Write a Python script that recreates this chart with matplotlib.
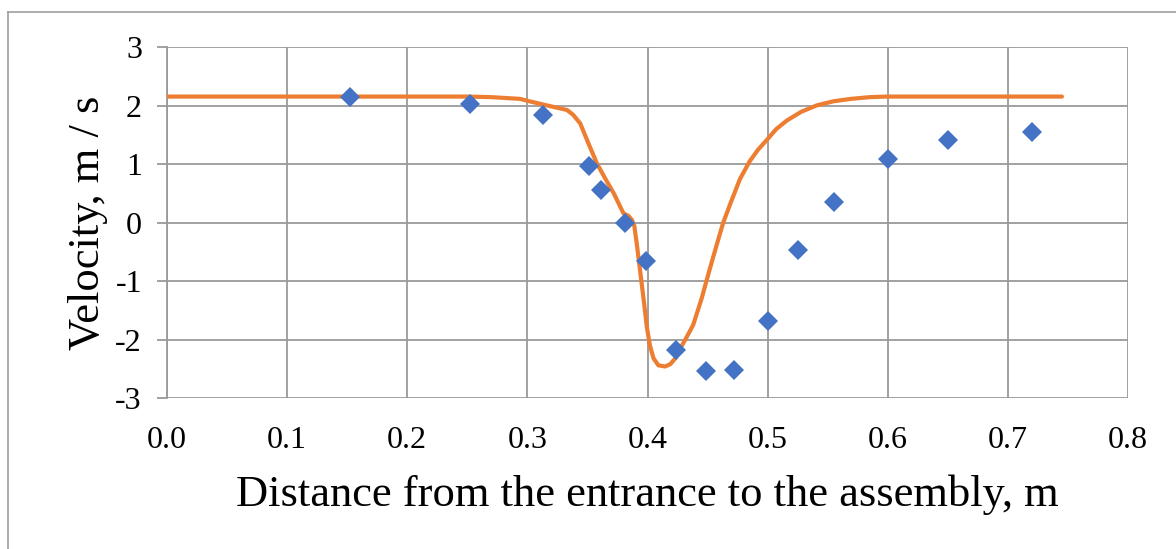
import matplotlib
matplotlib.use("Agg")
import matplotlib.pyplot as plt
from matplotlib.lines import Line2D

plt.rcParams['font.family'] = ['Liberation Serif', 'DejaVu Serif']

# measured points (blue diamonds)
meas_x = [0.152, 0.252, 0.313, 0.351, 0.361, 0.381, 0.399, 0.424,
          0.449, 0.472, 0.500, 0.525, 0.555, 0.600, 0.650, 0.720]
meas_v = [2.15, 2.04, 1.84, 0.98, 0.56, 0.00, -0.66, -2.18,
          -2.54, -2.52, -1.68, -0.47, 0.36, 1.09, 1.41, 1.56]

# computed profile (orange line)
calc_x = [0.0, 0.15, 0.25, 0.27, 0.294, 0.2995, 0.316, 0.333, 0.338, 0.344,
          0.351, 0.358, 0.365, 0.372, 0.380, 0.384, 0.387, 0.389, 0.391,
          0.394, 0.397, 0.3994, 0.402, 0.405, 0.409, 0.4146, 0.419, 0.424,
          0.427, 0.432, 0.438, 0.445, 0.452, 0.458, 0.463, 0.469, 0.477,
          0.485, 0.492, 0.499, 0.507, 0.516, 0.528, 0.541, 0.555, 0.569,
          0.585, 0.599, 0.65, 0.745]
calc_v = [2.16, 2.16, 2.16, 2.15, 2.12, 2.09, 2.01, 1.93, 1.85, 1.70,
          1.35, 1.01, 0.75, 0.50, 0.16, 0.12, 0.05, -0.05, -0.35,
          -0.85, -1.35, -1.78, -2.10, -2.32, -2.44, -2.46, -2.42, -2.30,
          -2.16, -1.98, -1.75, -1.30, -0.78, -0.35, 0.0, 0.33, 0.75,
          1.05, 1.25, 1.41, 1.60, 1.75, 1.90, 2.01, 2.08, 2.12,
          2.15, 2.16, 2.16, 2.16]

x_ticks = [0.0, 0.1, 0.2, 0.3, 0.4, 0.5, 0.6, 0.7, 0.8]
y_ticks = [-3, -2, -1, 0, 1, 2, 3]

grid_col = '#9a9a9a'

fig = plt.figure(figsize=(11.76, 5.49), dpi=100)
ax = fig.add_axes([0.142, 0.275, 0.8172, 0.6385])

ax.plot(calc_x, calc_v, color='#ED7D31', lw=3.0, solid_capstyle='round', zorder=3)
ax.plot(meas_x, meas_v, linestyle='none', marker='D', ms=10, color='#4472C4',
        markeredgewidth=0, zorder=4)

ax.set_xlim(0, 0.8)
ax.set_ylim(-3, 3)
ax.set_xticks(x_ticks)
ax.set_xticklabels([f'{t:.1f}' for t in x_ticks])
ax.set_yticks(y_ticks)
ax.set_yticklabels([str(t) for t in y_ticks])
ax.grid(True, color=grid_col, lw=1.3)
ax.set_axisbelow(True)
for s in ['top', 'right', 'bottom']:
    ax.spines[s].set_visible(False)
ax.spines['left'].set_color(grid_col)
ax.spines['left'].set_linewidth(1.3)
ax.tick_params(axis='y', length=7, width=1.3, color=grid_col, pad=11, labelsize=23)
ax.tick_params(axis='x', length=0, pad=20, labelsize=23)

ax.set_xlabel('Distance from the entrance to the assembly, m', fontsize=32)
ax.set_ylabel('Velocity, m / s', fontsize=32)
ax.xaxis.set_label_coords(0.5, -0.2185)
ax.yaxis.set_label_coords(-0.061, 0.5)

# outer frame
fig.add_artist(Line2D([8 / 1176, 1.0], [1 - 12 / 549, 1 - 12 / 549],
                      transform=fig.transFigure, color='#a0a0a0', lw=1.2))
fig.add_artist(Line2D([8 / 1176, 8 / 1176], [0.0, 1 - 12 / 549],
                      transform=fig.transFigure, color='#a0a0a0', lw=1.2))

fig.savefig('out.png', dpi=100)
